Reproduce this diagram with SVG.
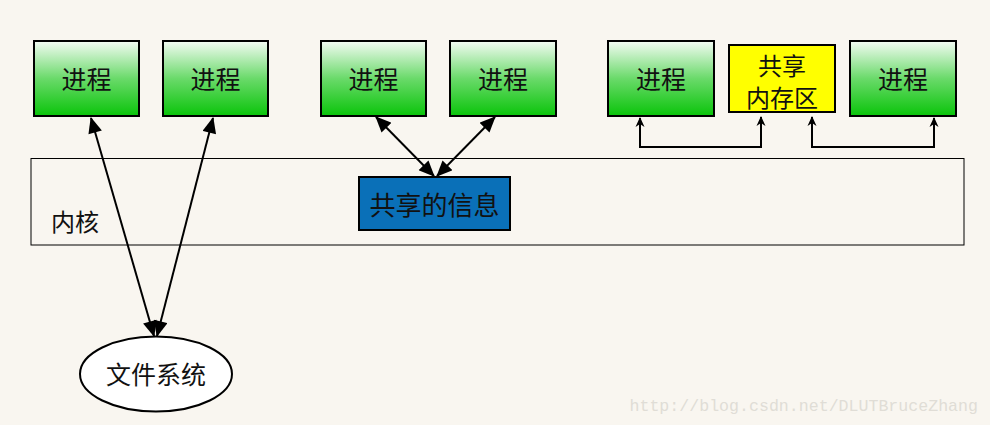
<svg xmlns="http://www.w3.org/2000/svg" width="990" height="425" viewBox="0 0 990 425">
<defs>
<linearGradient id="g" x1="0" y1="0" x2="0" y2="1">
<stop offset="0" stop-color="#f4fbf4"/>
<stop offset="0.5" stop-color="#6ada6a"/>
<stop offset="1" stop-color="#0ac40a"/>
</linearGradient>
<marker id="big" viewBox="0 0 16 14" refX="15" refY="7" markerWidth="17" markerHeight="14" markerUnits="userSpaceOnUse" orient="auto-start-reverse">
<path d="M0,0 L16,7 L0,14 Z" fill="#000"/>
</marker>
<marker id="small" viewBox="0 0 10 10" refX="9" refY="5" markerWidth="10" markerHeight="10" markerUnits="userSpaceOnUse" orient="auto-start-reverse">
<path d="M0,0.5 L10,5 L0,9.5 L3,5 Z" fill="#000"/>
</marker>
</defs>
<style>
.proc{fill:url(#g);stroke:#000;stroke-width:2}
.t{font-family:"Noto Sans CJK SC","Noto Sans",sans-serif;font-size:25px;fill:#111;text-anchor:middle;dominant-baseline:central}
.c{stroke:#000;stroke-width:2;fill:none}
</style>
<rect width="990" height="425" fill="#f9f6f0"/>
<g id="kernel">
<rect x="31" y="158.5" width="933" height="86.5" fill="none" stroke="#000" stroke-width="1"/>
<text class="t" x="75" y="220" style="font-size:24px">内核</text>
</g>
<g id="p1"><rect class="proc" x="34" y="41" width="105" height="75"/><text class="t" x="86.5" y="78">进程</text></g>
<g id="p2"><rect class="proc" x="163" y="41" width="105" height="75"/><text class="t" x="215.5" y="78">进程</text></g>
<g id="p3"><rect class="proc" x="321" y="41" width="105" height="75"/><text class="t" x="373.5" y="78">进程</text></g>
<g id="p4"><rect class="proc" x="450" y="41" width="106" height="75"/><text class="t" x="503" y="78">进程</text></g>
<g id="p5"><rect class="proc" x="608" y="41" width="106" height="75"/><text class="t" x="661" y="78">进程</text></g>
<g id="shm"><rect x="729" y="45" width="106" height="67" fill="#ffff00" stroke="#000" stroke-width="2"/>
<text class="t" x="782" y="64" style="font-size:24px">共享</text><text class="t" x="782" y="96" style="font-size:24px">内存区</text></g>
<g id="p6"><rect class="proc" x="850" y="41" width="106" height="75"/><text class="t" x="903" y="78">进程</text></g>
<g id="info"><rect x="359" y="177" width="151" height="53" fill="#0a70b8" stroke="#000" stroke-width="2"/>
<text class="t" x="434.5" y="203" style="font-size:26px">共享的信息</text></g>
<g id="fs"><ellipse cx="156" cy="374" rx="76" ry="37.5" fill="#fff" stroke="#000" stroke-width="2"/>
<text class="t" x="156" y="373">文件系统</text></g>
<g id="connectors">
<line class="c" x1="91" y1="118" x2="154" y2="336" marker-start="url(#big)" marker-end="url(#big)"/>
<line class="c" x1="213" y1="118" x2="157" y2="336" marker-start="url(#big)" marker-end="url(#big)"/>
<line class="c" x1="376" y1="117" x2="434" y2="176" marker-start="url(#big)" marker-end="url(#big)"/>
<line class="c" x1="495" y1="117" x2="437" y2="176" marker-start="url(#big)" marker-end="url(#big)"/>
<polyline class="c" points="640,118 640,147 761,147 761,117" marker-start="url(#small)" marker-end="url(#small)"/>
<polyline class="c" points="812,117 812,147 934,147 934,118" marker-start="url(#small)" marker-end="url(#small)"/>
</g>
<text x="978" y="411" text-anchor="end" style="font-family:'Liberation Mono',monospace;font-size:16.6px;fill:#e0ddd6">http://blog.csdn.net/DLUTBruceZhang</text>
</svg>
